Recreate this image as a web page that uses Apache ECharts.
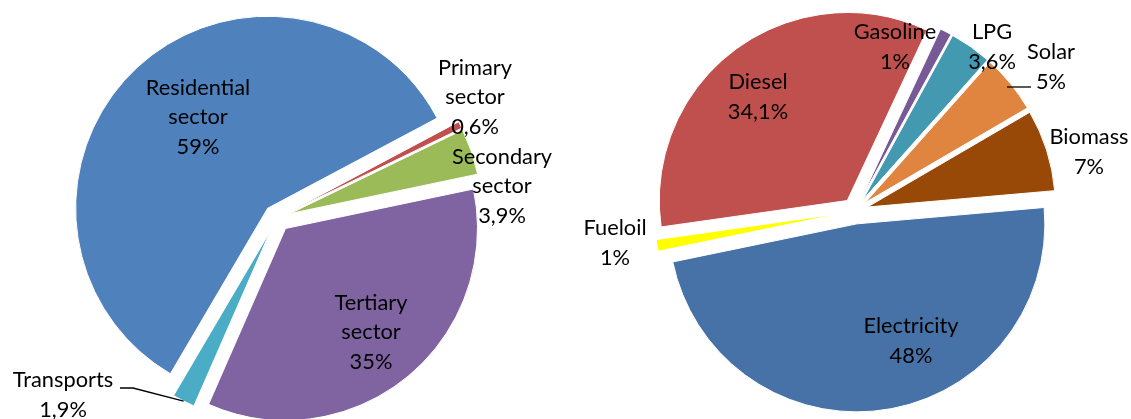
<!DOCTYPE html>
<html>
<head>
<meta charset="utf-8">
<script src="https://cdn.jsdelivr.net/npm/echarts@6/dist/echarts.min.js"></script>
<style>
  html, body { margin: 0; padding: 0; background: #fff; }
  #chart { width: 1131px; height: 419px; }
</style>
</head>
<body>
<div id="chart"></div>
<script>
// left pie: energy use by sector (clockwise from the top right)
const sectorNames = ['Primary sector', 'Secondary sector', 'Tertiary sector', 'Transports', 'Residential sector'];
const sectorValues = [0.6, 3.9, 35, 1.9, 59];
const sectorColors = ['#C0504D', '#9BBB59', '#8064A2', '#4BACC6', '#4F81BD'];

// right pie: energy use by source
const sourceNames = ['Electricity', 'Fueloil', 'Diesel', 'Gasoline', 'LPG', 'Solar', 'Biomass'];
const sourceValues = [48, 1, 34.1, 1, 3.6, 5, 7];
const sourceColors = ['#4672A7', '#FFFF00', '#C0504D', '#775A95', '#4299B0', '#DF853F', '#984807'];

// label block centres, relative to each pie centre
const sectorLabelPos = [[198, -121], [225, -32], [94, 114], [-214, 177], [-79, -101]];
const sourceLabelPos = [[56, 130], [-240, 32], [-97, -114], [40, -164], [137, -164], [196, -144], [234, -59]];

const leftPie = { center: [277, 218], radius: 192, start: 28, offset: 13.5 };
const rightPie = { center: [855, 211], radius: 188, start: 5, offset: 13 };

const FONT_FAMILY = 'Lato, "Liberation Sans", sans-serif';

function fmtPct(v) {
  return String(v).replace('.', ',') + '%';
}

// point on the outer arc of slice i, after the slice is pulled out
function arcPoint(pie, values, i) {
  const total = values.reduce((a, b) => a + b, 0);
  let a = pie.start;
  for (let j = 0; j < i; j++) a -= values[j] / total * 360;
  a -= values[i] / total * 180;
  const rad = a * Math.PI / 180;
  const d = pie.radius + pie.offset;
  return [pie.center[0] + Math.cos(rad) * d, pie.center[1] - Math.sin(rad) * d];
}

function buildSeries(pie, names, values, colors) {
  return {
    type: 'pie',
    center: pie.center,
    radius: pie.radius,
    startAngle: pie.start,
    clockwise: true,
    selectedMode: 'multiple',
    selectedOffset: pie.offset,
    emphasis: { disabled: true },
    itemStyle: { borderColor: '#fff', borderWidth: 1 },
    label: { show: false },
    labelLine: { show: false },
    data: names.map((n, i) => ({
      name: n,
      value: values[i],
      selected: true,
      itemStyle: { color: colors[i] }
    }))
  };
}

// data labels (name + share) and the two leader lines
// a leader line is a list of offsets from the label centre; 'arc' means the slice's outer edge
function buildLabels(pie, names, values, labelPos, lines) {
  const els = [];
  names.forEach((n, i) => {
    const x = pie.center[0] + labelPos[i][0];
    const y = pie.center[1] + labelPos[i][1];
    els.push({
      type: 'text',
      x: x,
      y: y,
      z: 100,
      silent: true,
      style: {
        text: n.replace(' ', '\n') + '\n' + fmtPct(values[i]),
        fill: '#000',
        fontFamily: FONT_FAMILY,
        fontSize: 21.8,
        lineHeight: 29.5,
        align: 'center',
        verticalAlign: 'middle'
      }
    });
    if (lines[i]) {
      const pts = lines[i].map((q) => q === 'arc' ? arcPoint(pie, values, i) : [x + q[0], y + q[1]]);
      els.push({
        type: 'polyline',
        z: 100,
        silent: true,
        shape: { points: pts },
        style: { stroke: '#000', lineWidth: 1.3, fill: null }
      });
    }
  });
  return els;
}

const chart = echarts.init(document.getElementById('chart'));
chart.setOption({
  animation: false,
  backgroundColor: '#fff',
  graphic: {
    elements: buildLabels(leftPie, sectorNames, sectorValues, sectorLabelPos, { 3: ['arc', [70, -7], [57, -7]] })
      .concat(buildLabels(rightPie, sourceNames, sourceValues, sourceLabelPos, { 5: [[-44, 20], [-20, 20]] }))
  },
  series: [
    buildSeries(leftPie, sectorNames, sectorValues, sectorColors),
    buildSeries(rightPie, sourceNames, sourceValues, sourceColors)
  ]
});
</script>
</body>
</html>
